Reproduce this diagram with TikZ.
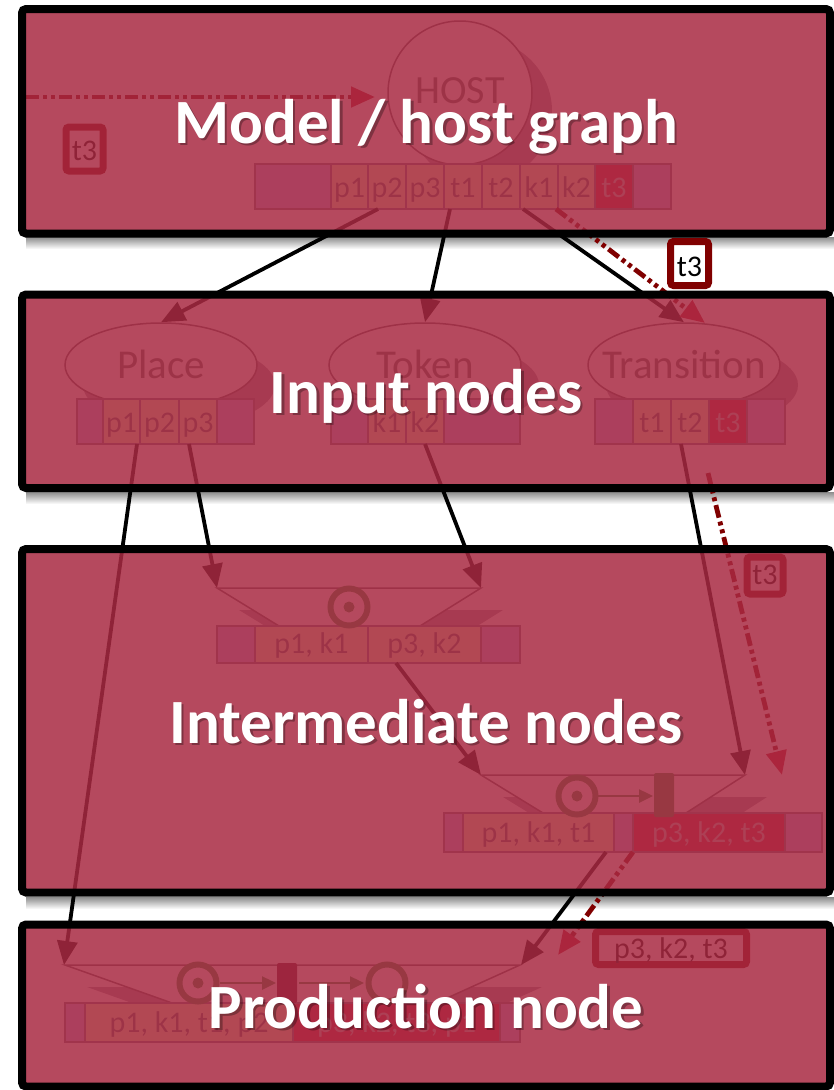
\documentclass[tikz,border=0pt]{standalone}
\usepackage{fontspec}
\setmainfont{Carlito}
\usetikzlibrary{arrows.meta,shapes.geometric}
\definecolor{ovl}{RGB}{169,42,66}
\definecolor{dred}{RGB}{128,0,0}
\definecolor{dtip}{RGB}{185,10,35}
\definecolor{cmain}{RGB}{235,250,185}
\definecolor{cend}{RGB}{190,185,250}
\definecolor{chot}{RGB}{205,30,65}
\definecolor{cline}{RGB}{120,115,135}
\definecolor{ulab}{RGB}{95,105,105}
\definecolor{hlab}{RGB}{200,190,195}
\definecolor{sline}{RGB}{100,90,100}
\definecolor{shd}{RGB}{160,150,172}
\definecolor{tok}{RGB}{60,140,70}
\definecolor{pbar}{RGB}{90,10,40}
\tikzset{
  conn/.style={line width=3.8pt, draw=black, -{Triangle[length=24pt,width=20pt]}},
  ddash/.style={line width=4.8pt, draw=dred, dash pattern=on 13pt off 4pt on 4pt off 4pt on 4pt off 4pt, -{Triangle[length=24pt,width=20pt,color=dtip]}},
  cellbox/.style={draw=cline, line width=1.5pt},
  celltext/.style={anchor=base, inner sep=0pt, font=\fontsize{30}{30}\selectfont},
  nodelabel/.style={anchor=base, inner sep=0pt, text=ulab, font=\fontsize{41}{41}\selectfont},
  classnode/.style={draw=sline, line width=1.5pt, fill=white, inner sep=0pt},
  trap/.style={draw=sline, line width=1.5pt, fill=white},
  tokenring/.style={draw=tok, line width=6pt, fill=white},
  tokarrow/.style={draw=tok, line width=2.5pt, -{Triangle[length=14pt,width=13pt]}},
  tokenbox/.style={draw=dred, line width=7pt, rounded corners=3pt, fill=white},
  tokentext/.style={anchor=base, inner sep=0pt, text=black, font=\fontsize{30}{30}\selectfont},
  layer/.style={fill=ovl, fill opacity=0.85, draw=black, draw opacity=1, line width=8pt, rounded corners=4pt},
  layertext/.style={anchor=base, inner sep=0pt, text=white, font=\bfseries\fontsize{63}{63}\selectfont},
  layershade/.style={anchor=base, inner sep=0pt, text=black, text opacity=0.3, font=\bfseries\fontsize{63}{63}\selectfont},
  gapshadow/.style={top color=black!45, bottom color=white, draw=none},
}
\begin{document}
\begin{tikzpicture}[x=1pt,y=-1pt]
\useasboundingbox (0,0) rectangle (834,1090);
\fill[white] (0,0) rectangle (834,1090);
% shadows in the gaps below the layers
\shade[gapshadow] (26,237) rectangle (834,249);
\shade[gapshadow] (26,492) rectangle (834,504);
\shade[gapshadow] (26,897) rectangle (834,909);

% ---------- underlying network ----------
% shadows of the class nodes
\fill[shd] (480,111) circle[radius=72pt];
\fill[shd] (179,385) ellipse[x radius=96pt, y radius=42pt];
\fill[shd] (443,385) ellipse[x radius=96pt, y radius=42pt];
\fill[shd] (702,385) ellipse[x radius=96pt, y radius=42pt];
% class nodes
\node[classnode, circle, minimum size=144pt] (host) at (460,93) {};
\node[classnode, ellipse, minimum width=192pt, minimum height=84pt] (place) at (161,365) {};
\node[classnode, ellipse, minimum width=192pt, minimum height=84pt] (token) at (425,365) {};
\node[classnode, ellipse, minimum width=192pt, minimum height=84pt] (trans) at (684,365) {};
\node[nodelabel, font=\fontsize{40}{40}\selectfont] (hostlab) at (460,103) {HOST};
\node[nodelabel] (placelab) at (161,378) {Place};
\node[nodelabel] (tokenlab) at (425,378) {Token};
\node[nodelabel] (translab) at (684,378) {Transition};

% join 1 trapezoid
\fill[shd] (239,610) -- (503,610) -- (442,648) -- (301,648) -- cycle;
\draw[trap] (279,626) -- (217,588) -- (481,588) -- (420,626);
% join 2 trapezoid
\fill[shd] (503,797) -- (767,797) -- (708,835) -- (565,835) -- cycle;
\draw[trap] (543,813) -- (481,775) -- (745,775) -- (686,813);
% production trapezoid
\fill[shd] (87,987) -- (542,987) -- (458,1025) -- (194,1025) -- cycle;
\draw[trap] (172,1003) -- (65,965) -- (520,965) -- (436,1003);

% memory rows
\foreach \a/\b/\c/\t in {255/331/cend/{}, 331/368/cmain/p1, 368/406/cmain/p2, 406/444/cmain/p3, 444/482/cmain/t1, 482/520/cmain/t2, 520/558/cmain/k1, 558/595/cmain/k2, 633/671/cend/{}}
  {\draw[cellbox, fill=\c] (\a,164) rectangle (\b,209);
   \node[celltext, text=ulab] at ({(\a+\b)/2},197) {\t};}
\draw[cellbox, fill=chot] (595,164) rectangle (633,209);
\node[celltext, text=hlab] (hostt3) at (614,197) {t3};

\foreach \a/\b/\c/\t in {77/103/cend/{}, 103/140/cmain/p1, 140/179/cmain/p2, 179/217/cmain/p3, 217/254/cend/{},
  331/368/cend/{}, 368/406/cmain/k1, 406/444/cmain/k2, 444/520/cend/{},
  595/633/cend/{}, 633/671/cmain/t1, 671/709/cmain/t2, 747/785/cend/{}}
  {\draw[cellbox, fill=\c] (\a,399) rectangle (\b,444);
   \node[celltext, text=ulab] at ({(\a+\b)/2},432) {\t};}
\draw[cellbox, fill=chot] (709,399) rectangle (747,444);
\node[celltext, text=hlab] (transt3) at (728,432) {t3};

\foreach \a/\b/\c/\t in {217/255/cend/{}, 255/368/cmain/{p1, k1}, 368/481/cmain/{p3, k2}, 481/520/cend/{}}
  {\draw[cellbox, fill=\c] (\a,626) rectangle (\b,663);
   \node[celltext, text=ulab] at ({(\a+\b)/2},653) {\t};}

\foreach \a/\b/\c/\t in {444/463/cend/{}, 463/614/cmain/{p1, k1, t1}, 614/633/cend/{}, 785/822/cend/{}}
  {\draw[cellbox, fill=\c] (\a,813) rectangle (\b,852);
   \node[celltext, text=ulab] at ({(\a+\b)/2},842) {\t};}
\draw[cellbox, fill=chot] (633,813) rectangle (785,852);
\node[celltext, text=hlab] (j2hotlab) at (709,842) {p3, k2, t3};

\foreach \a/\b/\c/\t in {65/85/cend/{}, 85/293/cmain/{p1, k1, t1, p2}, 500/520/cend/{}}
  {\draw[cellbox, fill=\c] (\a,1003) rectangle (\b,1042);
   \node[celltext, text=ulab] at ({(\a+\b)/2},1032) {\t};}
\draw[cellbox, fill=chot] (293,1003) rectangle (500,1042);
\node[celltext, text=hlab] (prhotlab) at (396.5,1032) {p3, k2, t3, p1};

% net symbols
\draw[tokenring] (349,607) circle[radius=18.5pt];
\fill[tok] (349,607) circle[radius=5.5pt];

\draw[tokenring] (577,796) circle[radius=18.5pt];
\fill[tok] (577,796) circle[radius=5.5pt];
\fill[tok, rounded corners=2pt] (654,773) rectangle (674,817);
\coordinate (j2ra) at (598,796); \coordinate (j2rb) at (653,796);
\draw[tokarrow] (j2ra) -- (j2rb);

\draw[tokenring] (198,983) circle[radius=18.5pt];
\fill[tok] (198,983) circle[radius=5.5pt];
\fill[pbar, rounded corners=2pt] (277,963) rectangle (297,1003);
\draw[tokenring] (387,983) circle[radius=18.5pt];
\coordinate (pra) at (220,983); \coordinate (prb) at (276,983);
\coordinate (prc) at (299,983); \coordinate (prd) at (364,983);
\draw[tokarrow] (pra) -- (prb);
\draw[tokarrow] (prc) -- (prd);

% connector end points
\coordinate (hP2) at (378,209);
\coordinate (hT1) at (450,209);
\coordinate (hK1) at (523,209);
\coordinate (hK2) at (556,209);
\coordinate (pP1) at (137,444);
\coordinate (pP3) at (189,444);
\coordinate (tK2) at (425,444);
\coordinate (trT2) at (681,444);
\coordinate (trFly) at (708,473);
\coordinate (j1L) at (217,588);
\coordinate (j1R) at (481,588);
\coordinate (j1out) at (396,663);
\coordinate (j2L) at (481,775);
\coordinate (j2R) at (745,775);
\coordinate (j2R2) at (782,775);
\coordinate (j2out) at (606,852);
\coordinate (j2hot) at (633,852);
\coordinate (prL) at (64,965);
\coordinate (prR) at (521,965);
\coordinate (prR2) at (558,955);
\coordinate (transTip) at (705,323);
\coordinate (ddStart) at (26,97);
\coordinate (ddEnd) at (375,97);

% connectors
\draw[conn] (hP2) -- (place.north);
\draw[conn] (hT1) -- (token.north);
\draw[conn] (hK1) -- (trans.north);
\draw[conn] (pP1) -- (prL);
\draw[conn] (pP3) -- (j1L);
\draw[conn] (tK2) -- (j1R);
\draw[conn] (trT2) -- (j2R);
\draw[conn] (j1out) -- (j2L);
\draw[conn] (j2out) -- (prR);
% token flights
\draw[ddash] (ddStart) -- (ddEnd);
\draw[ddash] (hK2) -- (transTip);
\draw[ddash] (trFly) -- (j2R2);
\draw[ddash] (j2hot) -- (prR2);

% flying tokens
\draw[tokenbox] (66,127) rectangle (103,171);
\node[tokentext] (tokA) at (84.5,160) {t3};
\draw[tokenbox] (747,557) rectangle (783,594);
\node[tokentext] (tokC) at (765,584) {t3};
\draw[tokenbox] (595.5,931.5) rectangle (746.5,964.5);
\node[tokentext] (tokD) at (671,958) {p3, k2, t3};

% ---------- layers ----------
\draw[layer] (22,9) rectangle (830,233.5);
\draw[layer] (22,294.5) rectangle (830,488);
\draw[layer] (22,549) rectangle (830,892.5);
\draw[layer] (22,924.5) rectangle (830,1086.5);

% token in the gap (above the layers)
\draw[tokenbox, line width=7pt] (670.5,241.5) rectangle (708.5,285.5);
\node[tokentext] (tokB) at (689.5,276) {t3};

% layer titles
\node[layershade] (s1) at (428.5,145.5) {Model / host graph};
\node[layertext] (l1) at (426,143) {Model / host graph};
\node[layershade] (s2) at (428.5,415.5) {Input nodes};
\node[layertext] (l2) at (426,413) {Input nodes};
\node[layershade] (s3) at (428.5,745.5) {Intermediate nodes};
\node[layertext] (l3) at (426,743) {Intermediate nodes};
\node[layershade] (s4) at (428.5,1030.5) {Production node};
\node[layertext] (l4) at (426,1028) {Production node};
\end{tikzpicture}
\end{document}
